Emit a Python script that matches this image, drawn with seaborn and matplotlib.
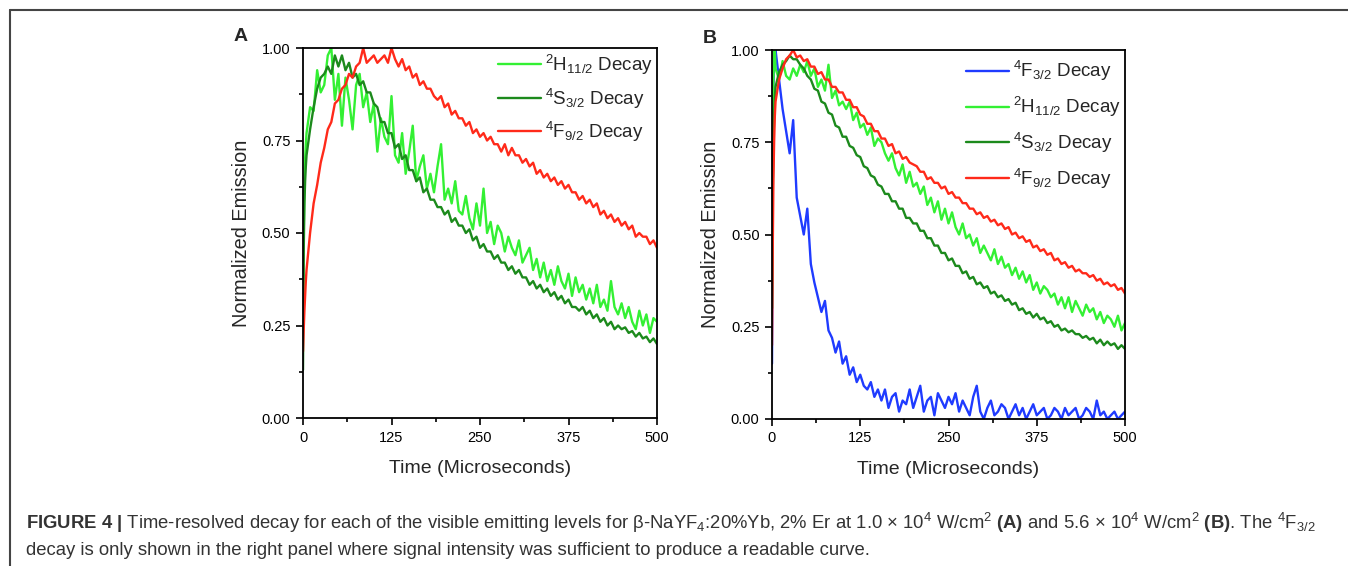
import numpy as np
import pandas as pd
import matplotlib
matplotlib.use('Agg')
import matplotlib.pyplot as plt
import seaborn as sns
from matplotlib.lines import Line2D
from matplotlib.ticker import MultipleLocator, FormatStrFormatter

# sampling times in microseconds (dense at the start, then every 5 us)
time_us = [0, 1, 2, 3, 4] + list(range(5, 501, 5))

# Panel A: 1.0 x 10^4 W/cm2
a_h112 = [0.25, 0.50, 0.63, 0.70, 0.74,
          0.77, 0.84, 0.83, 0.94, 0.88, 0.90, 0.98, 1.00, 0.86, 0.93,
          0.79, 0.92, 0.86, 0.78, 0.90, 0.93, 0.84, 0.88, 0.80, 0.85,
          0.72, 0.81, 0.76, 0.74, 0.87, 0.71, 0.69, 0.77, 0.66, 0.72,
          0.79, 0.64, 0.68, 0.71, 0.62, 0.66, 0.61, 0.68, 0.74, 0.59,
          0.62, 0.58, 0.64, 0.56, 0.55, 0.60, 0.54, 0.51, 0.58, 0.52,
          0.62, 0.50, 0.53, 0.47, 0.52, 0.50, 0.45, 0.49, 0.46, 0.44,
          0.48, 0.42, 0.44, 0.46, 0.40, 0.43, 0.38, 0.42, 0.37, 0.40,
          0.36, 0.41, 0.37, 0.35, 0.39, 0.33, 0.38, 0.34, 0.36, 0.32,
          0.35, 0.31, 0.36, 0.30, 0.32, 0.29, 0.37, 0.30, 0.28, 0.31,
          0.27, 0.30, 0.26, 0.24, 0.29, 0.25, 0.28, 0.23, 0.27, 0.26]
a_s32 = [0.13, 0.45, 0.58, 0.64, 0.68,
         0.71, 0.78, 0.84, 0.89, 0.92, 0.93, 0.95, 0.93, 0.98, 0.95,
         0.98, 0.94, 0.96, 0.92, 0.93, 0.90, 0.91, 0.88, 0.88, 0.85,
         0.84, 0.80, 0.80, 0.77, 0.77, 0.73, 0.74, 0.70, 0.71, 0.67,
         0.67, 0.64, 0.65, 0.61, 0.62, 0.59, 0.59, 0.57, 0.57, 0.55,
         0.56, 0.53, 0.54, 0.52, 0.52, 0.50, 0.51, 0.48, 0.49, 0.46,
         0.47, 0.45, 0.45, 0.43, 0.44, 0.42, 0.42, 0.40, 0.41, 0.39,
         0.40, 0.38, 0.38, 0.36, 0.37, 0.35, 0.36, 0.34, 0.35, 0.33,
         0.34, 0.32, 0.33, 0.31, 0.32, 0.30, 0.30, 0.29, 0.30, 0.28,
         0.29, 0.27, 0.28, 0.26, 0.27, 0.25, 0.26, 0.24, 0.25, 0.24,
         0.245, 0.23, 0.235, 0.22, 0.23, 0.215, 0.22, 0.205, 0.215, 0.20]
a_f92 = [0.18, 0.24, 0.29, 0.33, 0.37,
         0.40, 0.50, 0.58, 0.63, 0.69, 0.73, 0.78, 0.80, 0.85, 0.86,
         0.89, 0.90, 0.93, 0.92, 0.95, 0.96, 1.00, 0.96, 0.97, 0.98,
         0.96, 0.97, 0.98, 0.96, 1.00, 0.97, 0.95, 0.97, 0.94, 0.95,
         0.92, 0.93, 0.90, 0.91, 0.89, 0.89, 0.87, 0.86, 0.87, 0.84,
         0.85, 0.82, 0.83, 0.81, 0.81, 0.79, 0.80, 0.77, 0.78, 0.76,
         0.77, 0.75, 0.76, 0.74, 0.74, 0.72, 0.74, 0.71, 0.73, 0.71,
         0.71, 0.69, 0.70, 0.68, 0.69, 0.66, 0.67, 0.65, 0.66, 0.64,
         0.65, 0.63, 0.64, 0.62, 0.63, 0.61, 0.61, 0.59, 0.60, 0.58,
         0.59, 0.57, 0.58, 0.55, 0.56, 0.54, 0.55, 0.53, 0.54, 0.52,
         0.53, 0.51, 0.52, 0.49, 0.50, 0.49, 0.49, 0.47, 0.48, 0.46]

# Panel B: 5.6 x 10^4 W/cm2
b_f32 = [0.15, 0.60, 0.90, 1.00, 0.97,
         1.00, 0.92, 0.84, 0.78, 0.72, 0.81, 0.60, 0.55, 0.50, 0.57,
         0.42, 0.37, 0.33, 0.29, 0.32, 0.24, 0.22, 0.18, 0.21, 0.15,
         0.17, 0.12, 0.14, 0.10, 0.12, 0.09, 0.08, 0.10, 0.06, 0.08,
         0.05, 0.08, 0.03, 0.06, 0.07, 0.02, 0.05, 0.04, 0.08, 0.03,
         0.06, 0.09, 0.02, 0.05, 0.06, 0.01, 0.07, 0.05, 0.03, 0.06,
         0.04, 0.07, 0.02, 0.05, 0.03, 0.01, 0.06, 0.09, 0.02, 0.00,
         0.03, 0.05, 0.01, 0.02, 0.04, 0.03, 0.00, 0.02, 0.04, 0.01,
         0.03, 0.00, 0.02, 0.04, 0.01, 0.02, 0.03, 0.00, 0.01, 0.03,
         0.02, 0.00, 0.03, 0.01, 0.02, 0.03, 0.00, 0.01, 0.03, 0.02,
         0.00, 0.05, 0.01, 0.02, 0.00, 0.01, 0.02, 0.00, 0.01, 0.02]
b_h112 = [0.30, 0.70, 0.92, 0.99, 1.00,
          0.95, 0.92, 0.97, 0.93, 0.92, 0.95, 0.93, 0.96, 0.94, 0.97,
          0.93, 0.95, 0.90, 0.92, 0.89, 0.96, 0.87, 0.89, 0.85, 0.86,
          0.84, 0.86, 0.81, 0.83, 0.79, 0.80, 0.77, 0.79, 0.74, 0.76,
          0.75, 0.72, 0.70, 0.72, 0.68, 0.66, 0.69, 0.64, 0.67, 0.63,
          0.64, 0.61, 0.63, 0.58, 0.60, 0.56, 0.59, 0.54, 0.57, 0.53,
          0.56, 0.52, 0.50, 0.53, 0.49, 0.50, 0.47, 0.49, 0.45, 0.47,
          0.45, 0.43, 0.46, 0.42, 0.44, 0.41, 0.42, 0.39, 0.41, 0.38,
          0.40, 0.37, 0.39, 0.35, 0.37, 0.34, 0.36, 0.35, 0.33, 0.34,
          0.31, 0.33, 0.30, 0.33, 0.29, 0.32, 0.30, 0.28, 0.31, 0.29,
          0.30, 0.27, 0.29, 0.26, 0.28, 0.27, 0.25, 0.28, 0.24, 0.26]
b_s32 = [0.30, 0.60, 0.75, 0.82, 0.87,
         0.90, 0.94, 0.96, 0.97, 0.985, 0.975, 0.975, 0.96, 0.95, 0.93,
         0.92, 0.895, 0.89, 0.86, 0.855, 0.83, 0.825, 0.795, 0.79, 0.765,
         0.765, 0.74, 0.735, 0.715, 0.71, 0.685, 0.68, 0.66, 0.655, 0.635,
         0.63, 0.61, 0.61, 0.59, 0.59, 0.57, 0.57, 0.545, 0.545, 0.53,
         0.53, 0.51, 0.51, 0.49, 0.49, 0.47, 0.47, 0.45, 0.45, 0.43,
         0.435, 0.415, 0.415, 0.395, 0.40, 0.38, 0.385, 0.365, 0.37, 0.355,
         0.36, 0.34, 0.345, 0.33, 0.335, 0.32, 0.325, 0.31, 0.315, 0.295,
         0.30, 0.285, 0.29, 0.275, 0.285, 0.27, 0.275, 0.26, 0.265, 0.25,
         0.255, 0.24, 0.245, 0.235, 0.24, 0.23, 0.23, 0.22, 0.225, 0.215,
         0.22, 0.205, 0.215, 0.20, 0.21, 0.20, 0.205, 0.19, 0.20, 0.19]
b_f92 = [0.20, 0.45, 0.65, 0.75, 0.82,
         0.86, 0.92, 0.95, 0.975, 0.985, 1.00, 0.98, 0.985, 0.97, 0.975,
         0.955, 0.955, 0.935, 0.94, 0.92, 0.92, 0.90, 0.90, 0.885, 0.885,
         0.865, 0.865, 0.845, 0.845, 0.825, 0.82, 0.80, 0.80, 0.78, 0.78,
         0.76, 0.76, 0.74, 0.745, 0.72, 0.725, 0.705, 0.71, 0.695, 0.69,
         0.685, 0.67, 0.67, 0.65, 0.655, 0.64, 0.64, 0.625, 0.63, 0.61,
         0.615, 0.60, 0.60, 0.585, 0.585, 0.57, 0.57, 0.555, 0.56, 0.545,
         0.55, 0.535, 0.54, 0.525, 0.53, 0.515, 0.52, 0.50, 0.505, 0.49,
         0.495, 0.48, 0.485, 0.465, 0.47, 0.455, 0.46, 0.445, 0.45, 0.43,
         0.435, 0.42, 0.425, 0.41, 0.415, 0.40, 0.405, 0.395, 0.395, 0.385,
         0.39, 0.375, 0.38, 0.365, 0.37, 0.36, 0.365, 0.35, 0.355, 0.34]

lbl_f32 = r'$^{4}$F$_{3/2}$ Decay'
lbl_h112 = r'$^{2}$H$_{11/2}$ Decay'
lbl_s32 = r'$^{4}$S$_{3/2}$ Decay'
lbl_f92 = r'$^{4}$F$_{9/2}$ Decay'

colors = {lbl_f32: '#1F3BFF', lbl_h112: '#33F033',
          lbl_s32: '#1C8A1C', lbl_f92: '#FF2A1A'}

sns.set_style('ticks')
plt.rcParams['font.family'] = ['Liberation Sans', 'DejaVu Sans']
plt.rcParams['mathtext.fontset'] = 'custom'
plt.rcParams['mathtext.rm'] = 'Liberation Sans'
plt.rcParams['mathtext.it'] = 'Liberation Sans:italic'
plt.rcParams['mathtext.bf'] = 'Liberation Sans:bold'


def long_table(series):
    frames = []
    for label, values in series:
        frames.append(pd.DataFrame({'time': time_us, 'emission': values, 'level': label}))
    return pd.concat(frames, ignore_index=True)


def style_axis(ax):
    ax.set_xlim(0, 500)
    ax.set_ylim(0, 1)
    ax.xaxis.set_major_locator(MultipleLocator(125))
    ax.xaxis.set_minor_locator(MultipleLocator(62.5))
    ax.yaxis.set_major_locator(MultipleLocator(0.25))
    ax.yaxis.set_minor_locator(MultipleLocator(0.125))
    ax.yaxis.set_major_formatter(FormatStrFormatter('%.2f'))
    ax.tick_params(which='both', direction='out', width=1.2, colors='black', labelsize=10.5)
    ax.tick_params(which='major', length=5, pad=4)
    ax.tick_params(which='minor', length=3)
    for sp in ax.spines.values():
        sp.set_linewidth(1.3)
        sp.set_color('black')
    ax.set_xlabel('Time (Microseconds)', fontsize=14, labelpad=11)
    ax.set_ylabel('Normalized Emission', fontsize=14.3, labelpad=8)


fig = plt.figure(figsize=(13.48, 5.66), dpi=100)
ax_a = fig.add_axes([303 / 1348, 148 / 566, 354 / 1348, 370 / 566])
ax_b = fig.add_axes([772 / 1348, 147 / 566, 353 / 1348, 369 / 566])

panel_a = [(lbl_h112, a_h112), (lbl_s32, a_s32), (lbl_f92, a_f92)]
panel_b = [(lbl_f32, b_f32), (lbl_h112, b_h112), (lbl_s32, b_s32), (lbl_f92, b_f92)]

panels = [(ax_a, panel_a, 'A', 1.012, 0.5), (ax_b, panel_b, 'B', 1.0, 0.62)]
for ax, series, letter, leg_y, leg_gap in panels:
    df = long_table(series)
    order = [s[0] for s in series]
    sns.lineplot(data=df, x='time', y='emission', hue='level', hue_order=order,
                 palette=colors, estimator=None, sort=False, lw=1.7, ax=ax)
    style_axis(ax)
    handles, labels = ax.get_legend_handles_labels()
    ax.legend(handles, labels, loc='upper right', bbox_to_anchor=(1.015, leg_y),
              frameon=False, fontsize=13.5, handlelength=2.3, handletextpad=0.2,
              labelspacing=leg_gap, borderaxespad=0.2, borderpad=0.3)
    ax.text(-0.177, 1.032, letter, transform=ax.transAxes, fontsize=14,
            fontweight='bold', ha='center', va='center')

# caption
line1 = (r'$\mathbf{FIGURE\ 4\ |}$ Time-resolved decay for each of the visible emitting levels '
         r'for β-NaYF$_4$:20%Yb, 2% Er at 1.0 × 10$^4$ W/cm$^2$ $\mathbf{(A)}$ and '
         r'5.6 × 10$^4$ W/cm$^2$ $\mathbf{(B)}$. The $^4$F$_{3/2}$')
line2 = 'decay is only shown in the right panel where signal intensity was sufficient to produce a readable curve.'
fig.text(26 / 1348, 1 - 529 / 566, line1, fontsize=13.3, color='#333333', va='baseline')
fig.text(26 / 1348, 1 - 555 / 566, line2, fontsize=13.3, color='#333333', va='baseline')

# outer frame (top and left rules)
fig.add_artist(Line2D([10 / 1348, 1], [1 - 10 / 566, 1 - 10 / 566],
                      transform=fig.transFigure, color='#444444', lw=1.5))
fig.add_artist(Line2D([10 / 1348, 10 / 1348], [0, 1 - 10 / 566],
                      transform=fig.transFigure, color='#444444', lw=1.5))

fig.savefig('out.png', dpi=100)
